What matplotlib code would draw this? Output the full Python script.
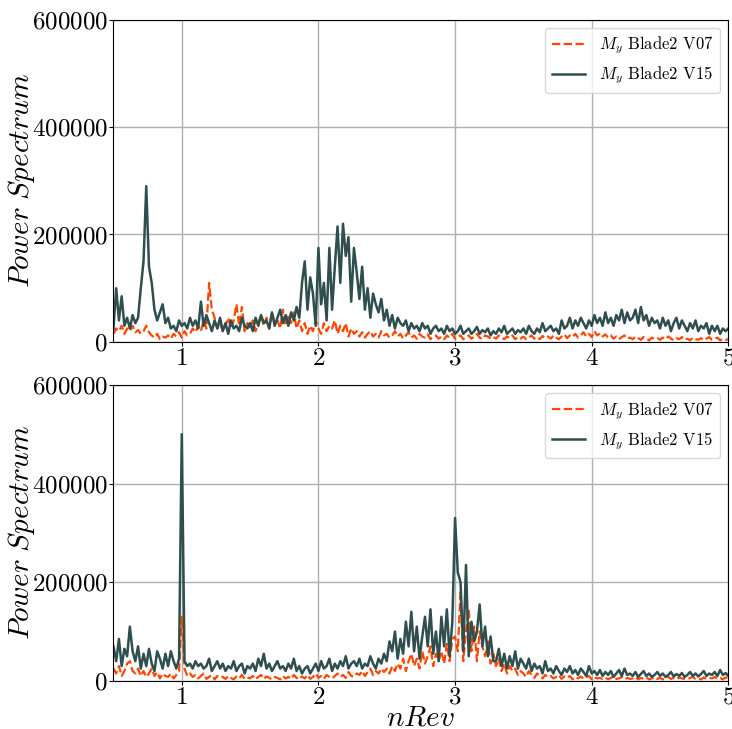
import numpy as np
import matplotlib
matplotlib.use('Agg')
import matplotlib.pyplot as plt

plt.rcParams['font.family'] = 'serif'
plt.rcParams['font.serif'] = ['cmr10', 'DejaVu Serif']
plt.rcParams['mathtext.fontset'] = 'cm'
plt.rcParams['axes.formatter.use_mathtext'] = True

# nRev axis, step 0.02 from 0.5 to 5
nrev = np.round(np.arange(0.5, 5.0001, 0.02), 2)

# power spectrum values in thousands
top_v15 = [
    25, 100, 40, 85, 30, 45, 25, 50, 35, 45,
    100, 150, 290, 140, 110, 60, 40, 55, 70, 35,
    45, 25, 30, 20, 40, 30, 35, 25, 45, 30,
    40, 25, 75, 30, 50, 35, 20, 40, 25, 45,
    20, 35, 15, 40, 25, 30, 20, 45, 30, 25,
    35, 20, 45, 30, 50, 35, 40, 25, 55, 30,
    45, 60, 35, 50, 30, 55, 40, 65, 45, 110,
    150, 60, 120, 90, 30, 175, 70, 110, 40, 175,
    60, 140, 215, 110, 220, 160, 195, 75, 175, 130,
    80, 140, 60, 100, 45, 90, 70, 55, 80, 40,
    60, 30, 50, 25, 45, 35, 30, 40, 20, 35,
    25, 30, 20, 35, 25, 30, 15, 25, 30, 20,
    25, 15, 30, 20, 25, 15, 20, 30, 15, 20,
    25, 15, 20, 28, 15, 22, 18, 25, 12, 20,
    15, 25, 18, 30, 15, 20, 25, 15, 22, 18,
    25, 15, 30, 20, 15, 25, 18, 35, 20, 25,
    30, 20, 25, 15, 40, 25, 30, 45, 25, 40,
    30, 45, 35, 25, 40, 30, 50, 35, 45, 30,
    55, 35, 45, 30, 50, 40, 60, 35, 55, 40,
    45, 60, 35, 65, 40, 50, 30, 45, 35, 40,
    25, 45, 30, 40, 20, 35, 45, 25, 40, 30,
    20, 35, 25, 40, 20, 30, 25, 35, 15, 30,
    20, 30, 15, 25, 20, 25,
]
top_v07 = [
    15, 25, 20, 30, 15, 25, 20, 30, 18, 22,
    15, 20, 30, 18, 12, 8, 15, 5, 10, 8,
    12, 6, 15, 10, 18, 8, 20, 12, 15, 25,
    18, 30, 20, 40, 25, 110, 60, 45, 25, 35,
    20, 30, 45, 25, 40, 70, 30, 65, 20, 35,
    25, 40, 20, 35, 50, 30, 45, 25, 55, 35,
    40, 25, 60, 30, 50, 35, 55, 25, 40, 20,
    35, 15, 30, 20, 40, 25, 15, 35, 20, 30,
    25, 40, 15, 30, 20, 35, 10, 25, 15, 20,
    10, 18, 8, 15, 20, 10, 15, 8, 20, 12,
    15, 8, 12, 20, 10, 15, 6, 12, 18, 8,
    12, 6, 15, 10, 8, 14, 5, 10, 12, 6,
    10, 5, 12, 8, 15, 6, 10, 12, 5, 8,
    12, 6, 10, 15, 8, 5, 12, 10, 6, 9,
    6, 12, 8, 5, 10, 7, 12, 5, 9, 6,
    10, 5, 8, 12, 6, 9, 5, 11, 7, 10,
    6, 12, 8, 5, 10, 14, 7, 12, 9, 15,
    8, 12, 18, 10, 15, 9, 20, 12, 16, 10,
    14, 8, 12, 6, 10, 5, 9, 12, 6, 8,
    5, 10, 7, 4, 9, 6, 3, 8, 5, 7,
    4, 8, 5, 10, 6, 3, 7, 5, 9, 4,
    6, 3, 8, 5, 4, 7, 3, 6, 9, 4,
    5, 8, 3, 6, 4, 5,
]
bot_v15 = [
    70, 40, 85, 30, 65, 50, 110, 60, 40, 70,
    25, 55, 30, 65, 35, 20, 60, 45, 25, 55,
    30, 60, 40, 25, 45, 500, 40, 30, 35, 25,
    40, 30, 35, 25, 30, 45, 20, 30, 40, 25,
    35, 20, 30, 25, 40, 20, 30, 35, 15, 30,
    25, 35, 20, 45, 30, 55, 25, 35, 20, 30,
    40, 25, 30, 20, 35, 25, 45, 20, 30, 15,
    25, 30, 15, 25, 35, 20, 40, 25, 30, 45,
    20, 35, 25, 40, 30, 50, 25, 35, 40, 30,
    45, 25, 35, 30, 50, 35, 25, 45, 35, 55,
    40, 80, 60, 100, 45, 85, 55, 120, 70, 140,
    60, 110, 45, 90, 130, 70, 145, 55, 100, 40,
    130, 70, 145, 50, 120, 330, 220, 200, 60, 235,
    50, 120, 80, 100, 155, 70, 110, 50, 90, 40,
    40, 65, 30, 55, 25, 50, 30, 60, 25, 45,
    35, 25, 45, 20, 35, 25, 30, 15, 40, 20,
    25, 15, 30, 20, 12, 25, 18, 30, 15, 22,
    12, 25, 18, 10, 30, 15, 20, 12, 22, 10,
    18, 12, 20, 8, 15, 22, 10, 25, 12, 15,
    10, 18, 8, 14, 20, 10, 15, 8, 12, 18,
    10, 15, 8, 12, 18, 9, 14, 10, 16, 8,
    12, 18, 10, 15, 9, 14, 20, 10, 15, 12,
    18, 10, 22, 12, 16, 10,
]
bot_v07 = [
    25, 15, 30, 10, 20, 35, 40, 20, 15, 25,
    10, 20, 8, 15, 25, 10, 18, 5, 15, 10,
    8, 15, 5, 12, 20, 130, 25, 10, 15, 8,
    12, 5, 10, 15, 4, 8, 12, 3, 10, 6,
    8, 4, 10, 6, 3, 9, 5, 12, 4, 7,
    5, 10, 3, 8, 12, 4, 9, 6, 3, 8,
    6, 3, 10, 5, 8, 4, 12, 6, 3, 9,
    5, 12, 4, 8, 15, 6, 10, 4, 12, 8,
    5, 10, 15, 8, 12, 6, 18, 10, 8, 15,
    12, 20, 10, 18, 25, 12, 20, 15, 25, 18,
    25, 15, 30, 20, 35, 25, 45, 20, 40, 55,
    30, 45, 25, 60, 35, 50, 70, 30, 55, 40,
    60, 35, 75, 40, 85, 90, 60, 180, 40, 100,
    145, 60, 110, 40, 100, 70, 50, 80, 35, 55,
    30, 45, 20, 35, 15, 30, 20, 25, 12, 20,
    15, 8, 20, 12, 6, 15, 10, 5, 12, 8,
    10, 5, 8, 12, 4, 9, 6, 10, 3, 8,
    5, 9, 4, 7, 10, 3, 8, 5, 6, 4,
    7, 3, 6, 9, 4, 5, 8, 3, 6, 4,
    5, 8, 3, 6, 4, 7, 3, 5, 8, 4,
    6, 3, 5, 8, 4, 6, 3, 7, 5, 4,
    3, 6, 8, 4, 5, 3, 7, 4, 6, 5,
    8, 4, 6, 3, 7, 5,
]

fig = plt.figure(figsize=(7.32, 7.29), dpi=100)
ax1 = fig.add_axes([0.155, 0.531, 0.840, 0.442])
ax2 = fig.add_axes([0.155, 0.066, 0.840, 0.406])

for ax, v07, v15 in [(ax1, top_v07, top_v15), (ax2, bot_v07, bot_v15)]:
    ax.plot(nrev, np.array(v07) * 1000, '--', color='#FF4500', lw=1.6,
            label=r'$M_y$ Blade2 V07')
    ax.plot(nrev, np.array(v15) * 1000, '-', color='#2F4F4F', lw=1.8,
            label=r'$M_y$ Blade2 V15')
    ax.set_xlim(0.5, 5)
    ax.set_ylim(0, 600000)
    ax.set_xticks([1, 2, 3, 4, 5])
    ax.set_yticks([0, 200000, 400000, 600000])
    ax.grid(True, color='#b0b0b0', lw=1.0)
    ax.set_axisbelow(True)
    ax.tick_params(labelsize=18, length=3, pad=1)
    ax.set_ylabel(r'$Power\ Spectrum$', fontsize=21)
    ax.yaxis.set_label_coords(-0.125, 0.5)
    ax.legend(loc='upper right', fontsize=12, framealpha=0.8, edgecolor='#d0d0d0')

ax2.set_xlabel(r'$nRev$', fontsize=21)
ax2.xaxis.set_label_coords(0.5, -0.082)

fig.savefig('out.png', dpi=100)
